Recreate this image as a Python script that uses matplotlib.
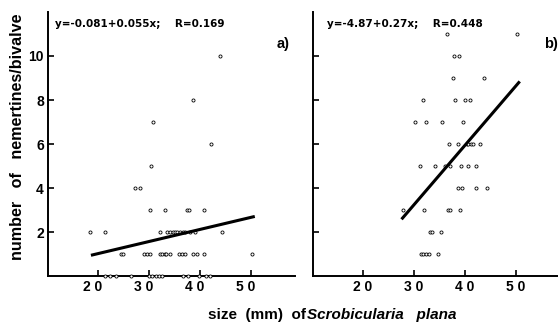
import matplotlib
matplotlib.use("Agg")
from matplotlib import pyplot as plt
from matplotlib.transforms import ScaledTranslation

plt.rcParams['font.family'] = ['Liberation Sans', 'DejaVu Sans']

# panel a) - size (mm) vs number of nemertines
a_size = [44.0, 38.6, 30.8, 42.2, 30.5, 27.3, 28.3,
          30.3, 33.3, 37.5, 38.0, 40.8,
          18.6, 21.4, 32.2, 33.7, 34.2, 34.7, 35.2, 35.6, 36.1, 36.7, 37.2, 38.2, 39.1, 44.3,
          24.5, 25.0, 29.1, 29.6, 30.3, 32.2, 32.7, 33.2, 33.5, 34.2, 36.0, 36.5, 37.1, 38.7, 39.4, 40.8, 50.2,
          21.5, 22.5, 23.6, 26.5, 30.1, 30.6, 31.4, 32.1, 32.6, 36.7, 37.8, 39.8, 41.2, 42.0]
a_count = [10, 8, 7, 6, 5, 4, 4,
           3, 3, 3, 3, 3,
           2, 2, 2, 2, 2, 2, 2, 2, 2, 2, 2, 2, 2, 2,
           1, 1, 1, 1, 1, 1, 1, 1, 1, 1, 1, 1, 1, 1, 1, 1, 1,
           0, 0, 0, 0, 0, 0, 0, 0, 0, 0, 0, 0, 0, 0]

# panel b)
b_size = [36.5, 50.3, 37.9, 38.9, 37.8, 43.8,
          31.9, 38.1, 40.1, 41.0, 30.3, 32.4, 35.6, 39.7,
          36.9, 38.6, 40.4, 40.7, 41.2, 41.6, 43.0,
          31.2, 34.2, 36.1, 37.1, 39.2, 40.7, 42.2,
          38.6, 39.4, 42.2, 44.3, 27.8, 32.0, 36.7, 37.1, 39.1,
          33.2, 33.6, 35.3, 31.4, 31.9, 32.4, 33.0, 34.8]
b_count = [11, 11, 10, 10, 9, 9,
           8, 8, 8, 8, 7, 7, 7, 7,
           6, 6, 6, 6, 6, 6, 6,
           5, 5, 5, 5, 5, 5, 5,
           4, 4, 4, 4, 3, 3, 3, 3, 3,
           2, 2, 2, 1, 1, 1, 1, 1]

# regression lines (intercept, slope, x range)
a_fit = (-0.081, 0.055)
a_fit_x = [19.0, 50.5]
b_fit = (-4.87, 0.27)
b_fit_x = [27.8, 50.6]

xticks = [20, 30, 40, 50]
xticklabels = ['2 0', '3 0', '4 0', '5 0']
yticks = [2, 4, 6, 8, 10]
yticklabels = ['2', '4', '6', '8', '10']

fig = plt.figure(figsize=(5.58, 3.23), dpi=100)
ax1 = fig.add_axes([0.086, 0.145, 0.443, 0.818])
ax2 = fig.add_axes([0.561, 0.145, 0.439, 0.818])

panels = [(ax1, a_size, a_count, a_fit, a_fit_x, (10.3, 58.7),
           'y=-0.081+0.055x;    R=0.169', 0.03, 'a)', 0.925),
          (ax2, b_size, b_count, b_fit, b_fit_x, (10.25, 58.3),
           'y=-4.87+0.27x;    R=0.448', 0.056, 'b)', 0.945)]

for ax, xs, ys, fit, fx, xlim, eq, eqx, tag, tagx in panels:
    ax.scatter(xs, ys, s=5, facecolors='white', edgecolors='black',
               linewidths=0.6, zorder=3, clip_on=False)
    fy = [fit[0] + fit[1] * v for v in fx]
    ax.plot(fx, fy, color='black', lw=2.2, zorder=4)
    ax.set_xlim(*xlim)
    ax.set_ylim(0, 12)
    ax.spines['top'].set_visible(False)
    ax.spines['right'].set_visible(False)
    ax.spines['left'].set_linewidth(1.4)
    ax.spines['bottom'].set_linewidth(1.4)
    ax.set_xticks(xticks)
    ax.set_xticklabels(xticklabels, fontsize=10, fontweight='bold')
    ax.set_yticks(yticks)
    ax.tick_params(direction='in', length=4.5, width=1.2, pad=3)
    ax.text(eqx, 0.975, eq, transform=ax.transAxes, fontsize=7.5,
            fontweight='bold', family='DejaVu Sans', va='top', ha='left')
    ax.text(tagx, 0.88, tag, transform=ax.transAxes, fontsize=10.5,
            fontweight='bold', va='center', ha='left')

ax1.set_yticklabels(yticklabels, fontsize=10, fontweight='bold')
ax2.set_yticklabels([])

# left panel x labels sit slightly left of their ticks
shift = ScaledTranslation(-0.05, 0, fig.dpi_scale_trans)
for lab in ax1.get_xticklabels():
    lab.set_transform(lab.get_transform() + shift)

fig.text(0.032, 0.577, 'number   of   nemertines/bivalve', fontsize=11.6,
         fontweight='bold', rotation=90, ha='center', va='center')

fig.text(0.373, 0.0124, 'size  (mm)  of', fontsize=11, fontweight='bold',
         ha='left', va='baseline')
fig.text(0.550, 0.0124, 'Scrobicularia   plana', fontsize=11, fontweight='bold',
         style='italic', ha='left', va='baseline')

plt.savefig('out.png', dpi=100)
